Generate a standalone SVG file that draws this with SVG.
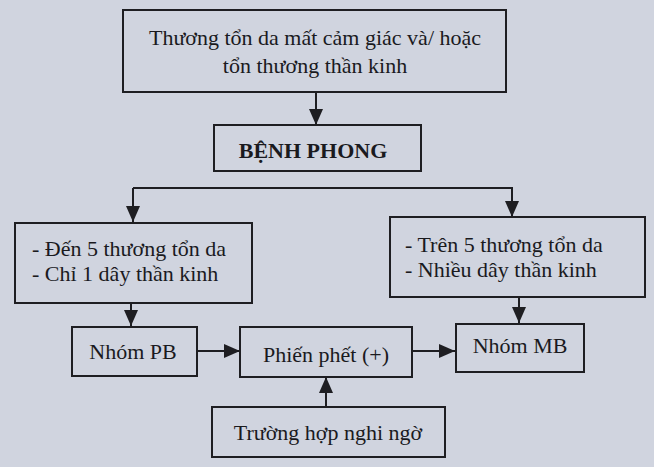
<svg xmlns="http://www.w3.org/2000/svg" width="654" height="467" viewBox="0 0 654 467">
<style>
.box{fill:none;stroke:#1e1e22;stroke-width:2}
.t{font-family:"Liberation Serif","Times New Roman",serif;font-size:22px;fill:#1a1a1e}
.c{text-anchor:middle}
.b{font-weight:bold}
.ln{fill:none;stroke:#1e1e22;stroke-width:2}
</style>
<defs>
<marker id="ah" markerUnits="userSpaceOnUse" markerWidth="18" markerHeight="18" viewBox="0 0 18 18" refX="17" refY="9" orient="auto">
<path d="M1,2 L17,9 L1,16 Z" fill="#1e1e22"/>
</marker>
</defs>
<rect width="654" height="467" fill="#d0d4df"/>
<g id="connectors">
<path class="ln" d="M316,92 V125" marker-end="url(#ah)"/>
<path class="ln" d="M133,188 H512 V217" marker-end="url(#ah)"/>
<path class="ln" d="M133,188 V222" marker-end="url(#ah)"/>
<path class="ln" d="M131,303 V326" marker-end="url(#ah)"/>
<path class="ln" d="M519,297 V323" marker-end="url(#ah)"/>
<path class="ln" d="M197,351 H240" marker-end="url(#ah)"/>
<path class="ln" d="M412,351 H455" marker-end="url(#ah)"/>
<path class="ln" d="M326,407 V377" marker-end="url(#ah)"/>
</g>
<g id="n-top">
<rect class="box" x="123" y="10" width="383" height="82"/>
<text class="t c" x="315" y="45">Th&#432;&#417;ng t&#7893;n da m&#7845;t c&#7843;m gi&#225;c v&#224;/ ho&#7863;c</text>
<text class="t c" x="315" y="73">t&#7893;n th&#432;&#417;ng th&#7847;n kinh</text>
</g>
<g id="n-benhphong">
<rect class="box" x="214" y="125" width="207" height="46"/>
<text class="t c b" x="313" y="158">B&#7878;NH PHONG</text>
</g>
<g id="n-left">
<rect class="box" x="15" y="223" width="237" height="80"/>
<text class="t" x="32" y="256">- &#272;&#7871;n 5 th&#432;&#417;ng t&#7893;n da</text>
<text class="t" x="32" y="281">- Ch&#7881; 1 d&#226;y th&#7847;n kinh</text>
</g>
<g id="n-right">
<rect class="box" x="390" y="217" width="255" height="80"/>
<text class="t" x="405" y="252">- Tr&#234;n 5 th&#432;&#417;ng t&#7893;n da</text>
<text class="t" x="405" y="277">- Nhi&#7873;u d&#226;y th&#7847;n kinh</text>
</g>
<g id="n-pb">
<rect class="box" x="72" y="327" width="125" height="49"/>
<text class="t c" x="133" y="359">Nh&#243;m PB</text>
</g>
<g id="n-phienphet">
<rect class="box" x="240" y="327" width="172" height="50"/>
<text class="t c" x="326" y="362">Phi&#7871;n ph&#7871;t (+)</text>
</g>
<g id="n-mb">
<rect class="box" x="456" y="324" width="128" height="48"/>
<text class="t c" x="520" y="353">Nh&#243;m MB</text>
</g>
<g id="n-nghingo">
<rect class="box" x="212" y="407" width="233" height="50"/>
<text class="t c" x="328" y="440">Tr&#432;&#7901;ng h&#7907;p nghi ng&#7901;</text>
</g>
</svg>
